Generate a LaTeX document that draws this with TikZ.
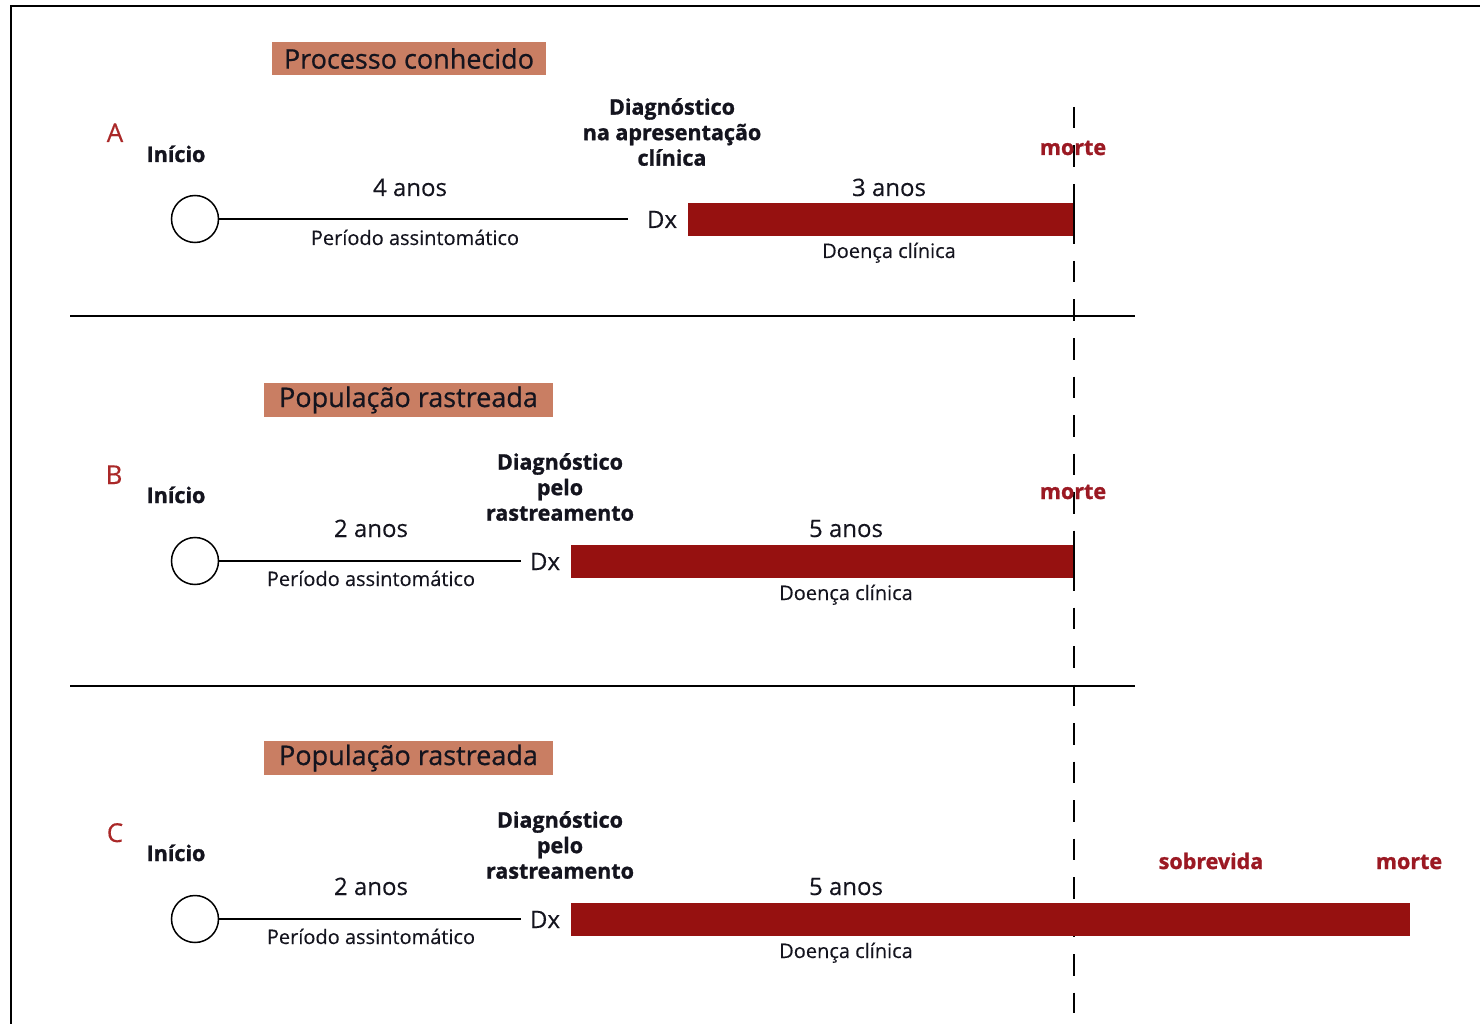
\documentclass[tikz,border=0pt]{standalone}
\usepackage{fontspec}
\setmainfont{Open Sans}[BoldFeatures={FakeBold=1.2}]
\newfontfamily\titlefont{Open Sans}[FakeBold=0.7]
\newfontfamily\plainfont{Open Sans}[FakeBold=0.3]
\definecolor{barred}{RGB}{150,17,16}
\definecolor{titlefill}{RGB}{201,126,99}
\definecolor{deathred}{RGB}{155,25,35}
\definecolor{rowred}{RGB}{170,40,40}
\definecolor{ink}{RGB}{20,20,30}
\begin{document}
\begin{tikzpicture}[x=1pt,y=-1pt,
  every node/.style={inner sep=0pt, text=ink},
  titlebox/.style={fill=titlefill, font=\titlefont\fontsize{27}{30}\selectfont},
  rowlabel/.style={anchor=base, text=rowred, font=\plainfont\fontsize{26}{30}\selectfont},
  startlabel/.style={anchor=base, font=\bfseries\fontsize{21.5}{25}\selectfont},
  years/.style={anchor=base, font=\plainfont\fontsize{24}{28}\selectfont},
  small/.style={anchor=base, font=\plainfont\fontsize{20}{24}\selectfont},
  dxlabel/.style={anchor=base, font=\plainfont\fontsize{24}{28}\selectfont},
  diag/.style={align=center, font=\bfseries\fontsize{21.5}{25.5}\selectfont},
  death/.style={anchor=base, text=deathred, font=\bfseries\fontsize{21.5}{25}\selectfont},
  onset/.style={circle, draw=black, line width=1.5pt, minimum size=47pt},
  period/.style={draw=black, line width=1.5pt},
  disease/.style={fill=barred, minimum height=33pt, anchor=west},
  divider/.style={draw=black, line width=1.5pt},
  deathline/.style={draw=black, line width=2pt, dash pattern=on 21.5pt off 17pt}
]
\useasboundingbox (0,0) rectangle (1480,1024);

% frame (top and left edges)
\draw[line width=2pt] (11,1024) -- (11,6) -- (1480,6);

% common time of death for A and B
\coordinate (dtop) at (1074,107);
\coordinate (dbot) at (1074,1013);
\draw[deathline] (dtop) -- (dbot);

% separators
\coordinate (s1l) at (70,316);  \coordinate (s1r) at (1135,316);
\coordinate (s2l) at (70,686);  \coordinate (s2r) at (1135,686);
\draw[divider] (s1l) -- (s1r);
\draw[divider] (s2l) -- (s2r);

% ---------------- A ----------------
\node[titlebox, minimum width=274pt, minimum height=33pt] (tA) at (409,58.5) {Processo conhecido};
\node[rowlabel] (lA) at (115,142) {A};
\node[startlabel] (iA) at (176,162) {Início};
\node[onset] (cA) at (195,219) {};
\node[dxlabel] (dxA) at (662,228) {Dx};
\draw[period] (cA.east) -- ([xshift=-19pt]dxA.west |- cA.east);
\node[years] (yA1) at (410,196) {4 anos};
\node[small] (pA) at (415,245) {Período assintomático};
\node[disease, minimum width=386pt] (bA) at (688,219.5) {};
\draw[line width=2pt] (bA.north east) -- (bA.south east);
\node[years] (yA2) at (889,196) {3 anos};
\node[small] (dA) at (889,258) {Doença clínica};
\node[diag] (gA) at (672,132) {Diagnóstico\\na apresentação\\clínica};
\node[death] (mA) at (1073,155) {morte};

% ---------------- B ----------------
\node[titlebox, minimum width=289pt, minimum height=34pt] (tB) at (408.5,400) {População rastreada};
\node[rowlabel] (lB) at (114,484) {B};
\node[startlabel] (iB) at (176,503) {Início};
\node[onset] (cB) at (195,561) {};
\node[dxlabel] (dxB) at (545,570) {Dx};
\draw[period] (cB.east) -- ([xshift=-9pt]dxB.west |- cB.east);
\node[years] (yB1) at (371,537) {2 anos};
\node[small] (pB) at (371,586) {Período assintomático};
\node[disease, minimum width=503pt] (bB) at (571,561.5) {};
\draw[line width=2pt] (bB.north east) -- (bB.south east);
\node[years] (yB2) at (846,537) {5 anos};
\node[small] (dB) at (846,600) {Doença clínica};
\node[diag] (gB) at (560,487) {Diagnóstico\\pelo\\rastreamento};
\node[death] (mB) at (1073,499) {morte};

% ---------------- C ----------------
\node[titlebox, minimum width=289pt, minimum height=34pt] (tC) at (408.5,758) {População rastreada};
\node[rowlabel] (lC) at (115,842) {C};
\node[startlabel] (iC) at (176,861) {Início};
\node[onset] (cC) at (195,919) {};
\node[dxlabel] (dxC) at (545,928) {Dx};
\draw[period] (cC.east) -- ([xshift=-9pt]dxC.west |- cC.east);
\node[years] (yC1) at (371,895) {2 anos};
\node[small] (pC) at (371,944) {Período assintomático};
\node[disease, minimum width=839pt] (bC) at (571,919.5) {};
\node[years] (yC2) at (846,895) {5 anos};
\node[small] (dC) at (846,958) {Doença clínica};
\node[diag] (gC) at (560,845) {Diagnóstico\\pelo\\rastreamento};
\node[death] (sC) at (1211,869) {sobrevida};
\node[death] (mC) at (1409,869) {morte};
\end{tikzpicture}
\end{document}
